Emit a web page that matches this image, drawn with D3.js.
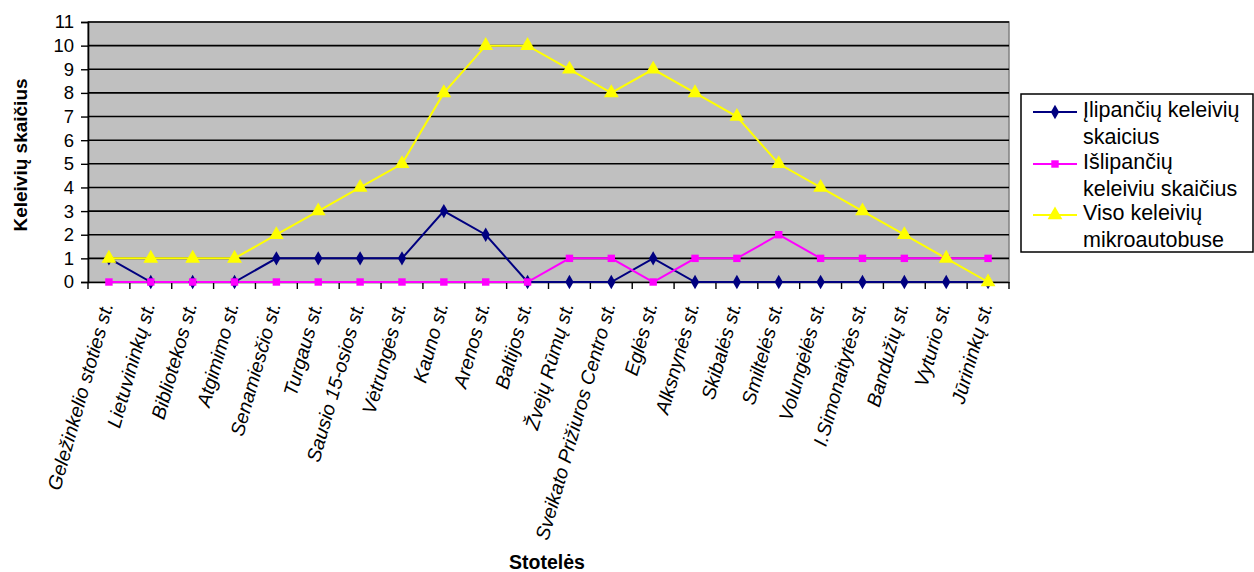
<!DOCTYPE html>
<html><head><meta charset="utf-8">
<script src="https://cdn.jsdelivr.net/npm/d3@7"></script>
<style>
body{margin:0;background:#fff;}
text{font-family:Arial,"Liberation Sans",sans-serif;}
</style></head>
<body><svg id="c" width="1254" height="572"></svg>
<script>
const categories = ["Geležinkelio stoties st.","Lietuvininkų st.","Bibliotekos st.","Atgimimo st.","Senamiesčio st.","Turgaus st.","Sausio 15-osios st.","Vėtrungės st.","Kauno st.","Arenos st.","Baltijos st.","Žvejų Rūmų st.","Sveikato Prižiuros Centro st.","Eglės st.","Alksnynės st.","Skibalės st.","Smiltelės st.","Volungėlės st.","I.Simonaitytės st.","Bandužių st.","Vyturio st.","Jūrininkų st."];
const boarding = [1,0,0,0,1,1,1,1,3,2,0,0,0,1,0,0,0,0,0,0,0,0];
const alighting = [0,0,0,0,0,0,0,0,0,0,0,1,1,0,1,1,2,1,1,1,1,1];
const total = [1,1,1,1,2,3,4,5,8,10,10,9,8,9,8,7,5,4,3,2,1,0];
const yTicks = [0,1,2,3,4,5,6,7,8,9,10,11];
const seriesNames = [["Įlipančių keleivių","skaicius"],["Išlipančių","keleiviu skaičius"],["Viso keleivių","mikroautobuse"]];
const yTitle = "Keleivių skaičius";
const xTitle = "Stotelės";

const svg = d3.select("#c");
const L=88, R=1009, T=22, B=282;
const x = d3.scaleBand().domain(categories).range([L,R]);
const y = d3.scaleLinear().domain([0,11]).range([B,T]);

svg.append("rect").attr("x",L).attr("y",T).attr("width",R-L).attr("height",B-T)
  .attr("fill","#c0c0c0").attr("stroke","#808080").attr("stroke-width",1.5);

// gridlines
svg.append("g").selectAll("line").data(yTicks.filter(d=>d>0)).join("line")
  .attr("x1",L).attr("x2",R).attr("y1",d=>y(d)).attr("y2",d=>y(d))
  .attr("stroke","#000").attr("stroke-width",1.6);

// y axis
const ya = svg.append("g").attr("transform",`translate(${L},0)`)
  .call(d3.axisLeft(y).tickValues(yTicks).tickSize(7).tickPadding(7).tickFormat(d3.format("d")));
ya.select(".domain").attr("stroke","#000").attr("stroke-width",1.6);
ya.selectAll(".tick line").attr("stroke","#000").attr("stroke-width",1.4);
ya.selectAll(".tick text").attr("font-size",18.5).attr("fill","#000").style("font-family","Arial");

// x axis
const xa = svg.append("g").attr("transform",`translate(0,${B})`)
  .call(d3.axisBottom(x).tickSize(0).tickFormat(""));
xa.select(".domain").attr("stroke","#000").attr("stroke-width",1.6);
const bounds = d3.range(categories.length+1).map(i=>L + i*x.step());
svg.append("g").selectAll("line").data(bounds).join("line")
  .attr("x1",d=>d).attr("x2",d=>d).attr("y1",B).attr("y2",B+7)
  .attr("stroke","#000").attr("stroke-width",1.4);

// x labels
svg.append("g").selectAll("text").data(categories).join("text")
  .attr("transform",d=>`translate(${x(d)+x.bandwidth()/2-2},${B+21}) rotate(-74)`)
  .attr("text-anchor","end").attr("dy","0.35em")
  .attr("font-size",19.5).attr("font-style","italic").attr("fill","#000")
  .text(d=>d);

const line = d3.line().x((d,i)=>x(categories[i])+x.bandwidth()/2).y(d=>y(d));
const series = [
  {vals:boarding,color:"#000080",sym:d3.symbolDiamond,size:60},
  {vals:alighting,color:"#ff00ff",sym:d3.symbolSquare,size:55},
  {vals:total,color:"#ffff00",sym:d3.symbolTriangle,size:95}
];
series.forEach(s=>{
  svg.append("path").datum(s.vals).attr("d",line).attr("fill","none")
    .attr("stroke",s.color).attr("stroke-width",2);
});
series.forEach(s=>{
  svg.append("g").selectAll("path").data(s.vals).join("path")
    .attr("transform",(d,i)=>`translate(${x(categories[i])+x.bandwidth()/2},${y(d)})`)
    .attr("d",d3.symbol().type(s.sym).size(s.size)).attr("fill",s.color);
});

// titles
svg.append("text").attr("transform","translate(27,155) rotate(-90)")
  .attr("text-anchor","middle").attr("font-size",19).attr("font-weight","bold").text(yTitle);
svg.append("text").attr("x",547).attr("y",569).attr("text-anchor","middle")
  .attr("font-size",19.5).attr("font-weight","bold").text(xTitle);

// legend
const lg = svg.append("g");
lg.append("rect").attr("x",1021).attr("y",94).attr("width",232).attr("height",158)
  .attr("fill","#fff").attr("stroke","#000").attr("stroke-width",1.5);
const ly = [112,164,215];
series.forEach((s,i)=>{
  lg.append("line").attr("x1",1033).attr("x2",1077).attr("y1",ly[i]).attr("y2",ly[i])
    .attr("stroke",s.color).attr("stroke-width",2);
  lg.append("path").attr("transform",`translate(1055,${ly[i]})`)
    .attr("d",d3.symbol().type(s.sym).size(s.size)).attr("fill",s.color);
  const t = lg.append("text").attr("x",1083).attr("y",ly[i]+5).attr("font-size",21.5);
  t.append("tspan").attr("x",1083).text(seriesNames[i][0]);
  t.append("tspan").attr("x",1083).attr("dy",27).text(seriesNames[i][1]);
});
</script></body></html>
